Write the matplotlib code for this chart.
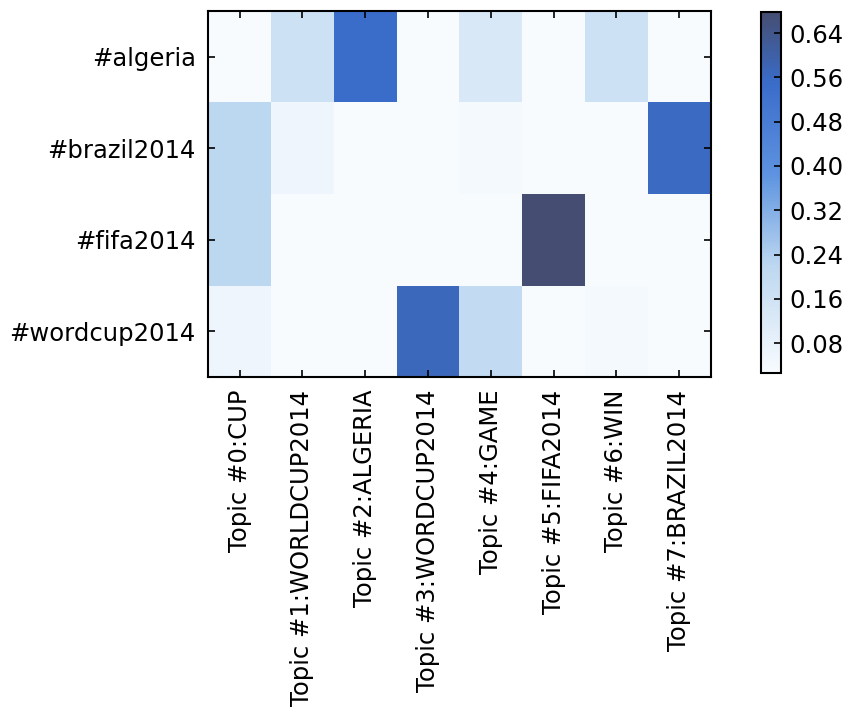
import matplotlib
matplotlib.use("Agg")
import matplotlib.pyplot as plt
from matplotlib.colors import LinearSegmentedColormap
import numpy as np

hashtags = ["#algeria", "#brazil2014", "#fifa2014", "#wordcup2014"]
topics = ["Topic #0:CUP", "Topic #1:WORLDCUP2014", "Topic #2:ALGERIA",
          "Topic #3:WORDCUP2014", "Topic #4:GAME", "Topic #5:FIFA2014",
          "Topic #6:WIN", "Topic #7:BRAZIL2014"]

# topic weight per hashtag
algeria = [0.03, 0.17, 0.55, 0.03, 0.13, 0.026, 0.17, 0.03]
brazil2014 = [0.22, 0.06, 0.03, 0.03, 0.04, 0.03, 0.03, 0.56]
fifa2014 = [0.22, 0.03, 0.03, 0.03, 0.03, 0.678, 0.03, 0.03]
wordcup2014 = [0.06, 0.03, 0.03, 0.57, 0.20, 0.03, 0.04, 0.03]

cbar_ticks = [0.08, 0.16, 0.24, 0.32, 0.40, 0.48, 0.56, 0.64]

data = np.array([algeria, brazil2014, fifa2014, wordcup2014])

cmap = LinearSegmentedColormap.from_list(
    "topics", [(0.0, "#f8fbfe"), (0.3, "#bcd7f0"), (0.55, "#5d93e0"),
               (0.8, "#3a6dcb"), (1.0, "#454e72")])

plt.rcParams["font.family"] = "DejaVu Sans"
plt.rcParams["font.size"] = 17.5

fig = plt.figure(figsize=(8.43, 7.08), dpi=100)
ax = fig.add_axes([0.247, 0.4675, 0.596, 0.517])
mesh = ax.pcolormesh(data, cmap=cmap, vmin=data.min(), vmax=data.max())
ax.set_xlim(0, len(topics))
ax.set_ylim(len(hashtags), 0)

ax.set_xticks(np.arange(len(topics)) + 0.5)
ax.set_xticklabels(topics, rotation=90)
ax.set_yticks(np.arange(len(hashtags)) + 0.5)
ax.set_yticklabels(hashtags)
ax.tick_params(direction="in", top=True, right=True, length=5, width=1.2, pad=9)
for s in ax.spines.values():
    s.set_linewidth(1.5)

cax = fig.add_axes([0.903, 0.473, 0.024, 0.51])
cb = fig.colorbar(mesh, cax=cax, ticks=cbar_ticks)
cb.ax.set_yticklabels(["%.2f" % t for t in cbar_ticks])
cb.ax.tick_params(direction="in", length=5, width=1.2, pad=6)
cb.outline.set_linewidth(1.5)

fig.savefig("out.png", dpi=100)
